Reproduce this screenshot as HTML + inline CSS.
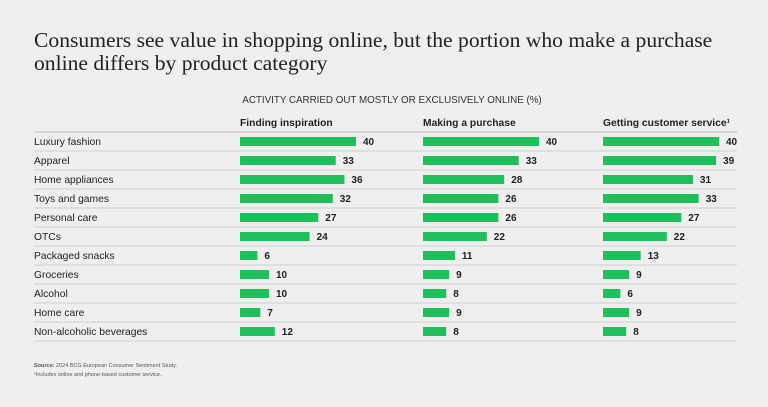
<!DOCTYPE html>
<html><head><meta charset="utf-8"><style>
body{margin:0;background:#f0efef;width:768px;height:402px;overflow:hidden;font-family:"Liberation Sans",sans-serif;color:#222}
</style></head><body>
<svg width="768" height="402" id="svg">
<text x="34" y="47" font-family="Liberation Serif,serif" font-size="21.6" fill="#222">Consumers see value in shopping online, but the portion who make a purchase</text>
<text x="34" y="70" font-family="Liberation Serif,serif" font-size="21.6" fill="#222">online differs by product category</text>
<text x="392" y="103" text-anchor="middle" font-size="9.8" fill="#333">ACTIVITY CARRIED OUT MOSTLY OR EXCLUSIVELY ONLINE (%)</text>
<text x="34" y="367" font-size="5.5" fill="#555"><tspan font-weight="bold">Source:</tspan> 2024 BCG European Consumer Sentiment Study.</text>
<text x="34" y="376" font-size="5.5" fill="#555">¹Includes online and phone-based customer service.</text>
<g id="g"></g>
</svg>
<script>
const categories=["Luxury fashion","Apparel","Home appliances","Toys and games","Personal care","OTCs","Packaged snacks","Groceries","Alcohol","Home care","Non-alcoholic beverages"];
const seriesNames=["Finding inspiration","Making a purchase","Getting customer service¹"];
const inspiration=[40,33,36,32,27,24,6,10,10,7,12];
const purchase=[40,33,28,26,26,22,11,9,8,9,8];
const service=[40,39,31,33,27,22,13,9,6,9,8];
const series=[inspiration,purchase,service];
const NS="http://www.w3.org/2000/svg",g=document.getElementById('g');
const colX=[240,423,603],top0=132,rowH=19,ppu=2.9;
const x=(v)=>v*ppu, y=(i)=>top0+i*rowH;
function mk(t,a,txt){const e=document.createElementNS(NS,t);for(const k in a)e.setAttribute(k,a[k]);if(txt!=null)e.textContent=txt;g.appendChild(e);return e;}
for(let i=0;i<=categories.length;i++){
 const l=mk('line',{x1:34,x2:737,y1:y(i),y2:y(i),stroke:'#cfcfcf','stroke-width':i==0?1.5:1});
 
 
}
categories.forEach((c,i)=>{
 const t=mk('text',{x:34,y:y(i)+13,'font-size':10.3,fill:'#222'},c);
 
 
});
series.forEach((s,j)=>{
 const h=mk('text',{x:colX[j],y:126,'font-size':10.3,'font-weight':'bold',fill:'#222'},seriesNames[j]);
 
 
 s.forEach((v,i)=>{
  const r=mk('rect',{x:colX[j],y:y(i)+5,width:x(v),height:9,fill:'#21bf5b'});
  
  
  const t=mk('text',{x:colX[j]+x(v)+7,y:y(i)+13,'font-size':10,'font-weight':'bold',fill:'#222'},v);
  
  
 });
});
</script>
</body></html>
